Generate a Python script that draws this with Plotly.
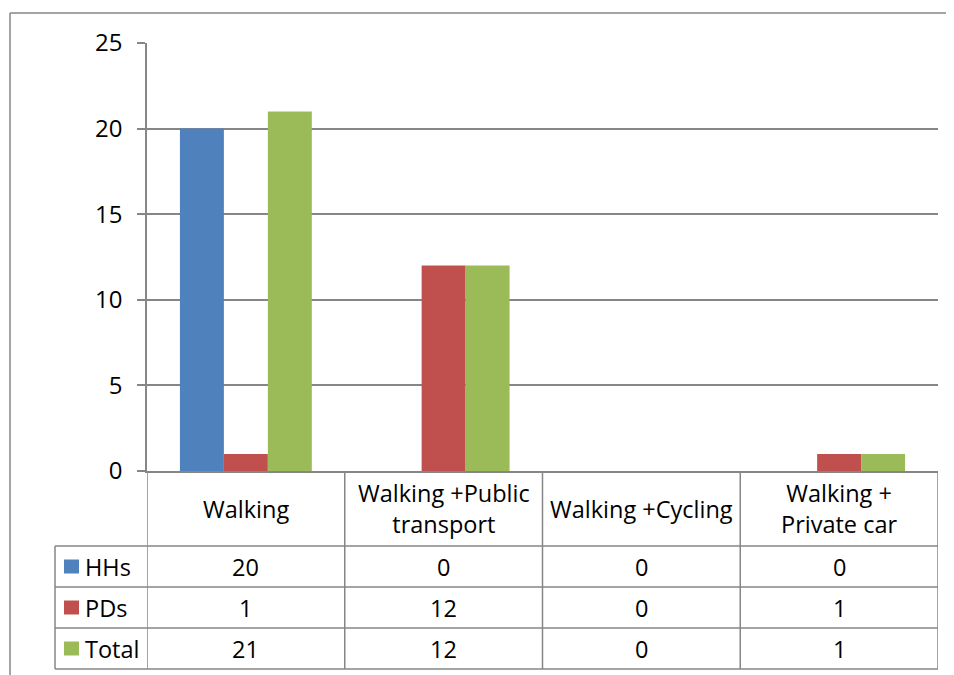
import plotly.graph_objects as go

categories = ["Walking", "Walking +Public<br>transport", "Walking +Cycling", "Walking +<br>Private car"]
series_names = ["HHs", "PDs", "Total"]
hhs = [20, 0, 0, 0]
pds = [1, 12, 0, 1]
total = [21, 12, 0, 1]
series_values = [hhs, pds, total]
colors = ["#4F81BD", "#C0504D", "#9BBB59"]
y_ticks = [0, 5, 10, 15, 20, 25]

OFF = 8  # page body margin
W, H = 954 - OFF, 675 - OFF
L, R, T = 147 - OFF, 954 - 938, 43 - OFF
B = H - (471 - OFF)
pw = W - L - R
ph = H - T - B
FONT = "Open Sans"
FS = 23.5
GRAY = "#868686"

def px_x(px):
    return (px - OFF - L) / pw

def px_y(py):
    return (H - B - (py - OFF)) / ph

fig = go.Figure()
xs = list(range(len(categories)))
for name, vals, col in zip(series_names, series_values, colors):
    fig.add_trace(go.Bar(x=xs, y=vals, name=name, marker=dict(color=col, line=dict(width=0))))

shapes = []
annotations = []

header_top, header_bot = 471, 546
row_h = 41
rows_top = [header_bot + i * row_h for i in range(len(series_names))]
table_bot = header_bot + row_h * len(series_names)
left_col = 55

line = dict(color=GRAY, width=1.5)
for yy in [header_bot] + [t + row_h for t in rows_top]:
    shapes.append(dict(type="line", xref="paper", yref="paper", x0=px_x(left_col), x1=1,
                       y0=px_y(yy), y1=px_y(yy), line=line, layer="above"))
for i in range(len(categories) + 1):
    shapes.append(dict(type="line", xref="x", yref="paper", x0=i - 0.5, x1=i - 0.5,
                       y0=px_y(header_top), y1=px_y(table_bot), line=line, layer="above"))
shapes.append(dict(type="line", xref="paper", yref="paper", x0=px_x(left_col), x1=px_x(left_col),
                   y0=px_y(header_bot), y1=px_y(table_bot), line=line, layer="above"))

for i, c in enumerate(categories):
    annotations.append(dict(x=i, y=px_y((header_top + header_bot) / 2), xref="x", yref="paper",
                            text=c, showarrow=False, font=dict(family=FONT, size=FS, color="#000"),
                            xanchor="center", yanchor="middle"))
for r, (name, vals, col) in enumerate(zip(series_names, series_values, colors)):
    yc = rows_top[r] + row_h / 2
    shapes.append(dict(type="rect", xref="paper", yref="paper", x0=px_x(64), x1=px_x(79),
                       y0=px_y(yc - 7), y1=px_y(yc + 7), fillcolor=col, line=dict(width=0)))
    annotations.append(dict(x=px_x(83), y=px_y(yc), xref="paper", yref="paper", text=name,
                            showarrow=False, font=dict(family=FONT, size=FS, color="#000"),
                            xanchor="left", yanchor="middle"))
    for i, v in enumerate(vals):
        annotations.append(dict(x=i, y=px_y(yc), xref="x", yref="paper", text=str(v),
                                showarrow=False, font=dict(family=FONT, size=FS, color="#000"),
                                xanchor="center", yanchor="middle"))

shapes.append(dict(type="line", xref="paper", yref="paper", x0=px_x(10), x1=px_x(960),
                   y0=px_y(13), y1=px_y(13), line=dict(color=GRAY, width=1.5)))
shapes.append(dict(type="line", xref="paper", yref="paper", x0=px_x(10), x1=px_x(10),
                   y0=px_y(13), y1=px_y(680), line=dict(color=GRAY, width=1.5)))

fig.update_layout(
    width=W, height=H,
    margin=dict(l=L, r=R, t=T, b=B),
    paper_bgcolor="white", plot_bgcolor="white",
    barmode="group", bargap=0.333, bargroupgap=0,
    showlegend=False,
    shapes=shapes, annotations=annotations,
    font=dict(family=FONT, size=FS, color="#000"),
)
fig.update_xaxes(type="linear", range=[-0.5, len(categories) - 0.5], showticklabels=False,
                 showgrid=False, zeroline=False, showline=True, linecolor=GRAY, linewidth=1.5, ticks="")
fig.update_yaxes(range=[0, 25], tickvals=y_ticks, showgrid=True, gridcolor=GRAY, gridwidth=1.5,
                 zeroline=False, showline=True, linecolor=GRAY, linewidth=1.5,
                 ticks="outside", ticklen=8, tickcolor=GRAY, tickwidth=1.5,
                 ticklabelstandoff=10, tickfont=dict(family=FONT, size=24, color="#000"))

fig.write_html("out.html")
